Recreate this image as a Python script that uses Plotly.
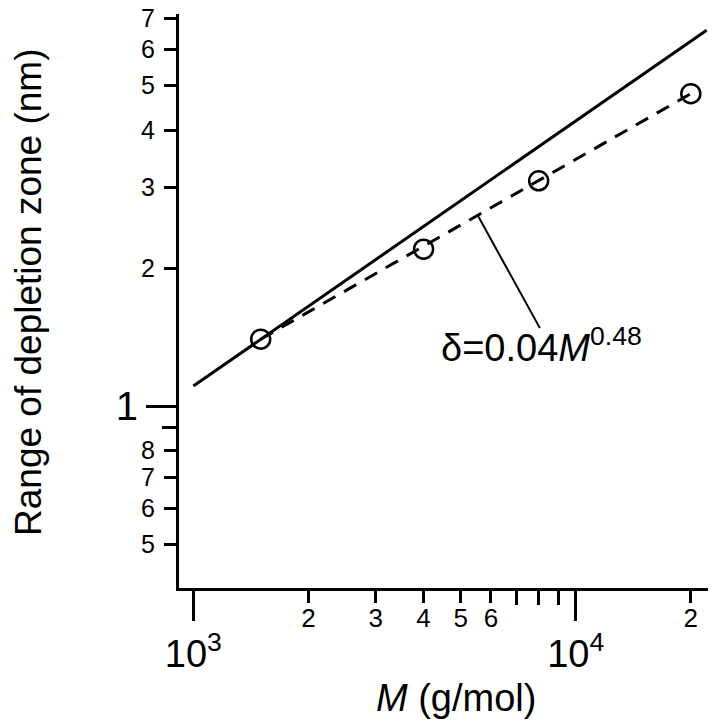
import numpy as np
import plotly.graph_objects as go

# ---- data ----
mass = [1500, 4000, 8000, 20000]            # M (g/mol)
depletion = [1.40, 2.20, 3.10, 4.80]         # range of depletion zone (nm)

fit_mass = [1500, 20000]                     # dashed fit, delta = 0.04 M^0.48
fit_depletion = [1.40, 4.80]

theory_mass = [1000, 22000]                  # solid line
theory_depletion = [1.107, 6.60]

leader_mass = [5550, 8060]                   # callout leader line
leader_depletion = [2.60, 1.48]

x_major_vals = [1000, 10000]
x_major_text = ["10<sup>3</sup>", "10<sup>4</sup>"]
x_minor_vals = [2000, 3000, 4000, 5000, 6000, 20000]
x_minor_text = ["2", "3", "4", "5", "6", "2"]
x_unlabeled_vals = [7000, 8000, 9000]

y_major_vals = [1]
y_major_text = ["1"]
y_minor_vals = [0.5, 0.6, 0.7, 0.8, 2, 3, 4, 5, 6, 7]
y_minor_text = ["5", "6", "7", "8", "2", "3", "4", "5", "6", "7"]
y_unlabeled_vals = [0.9]

x_range = [np.log10(917), np.log10(22180)]
y_range = [np.log10(0.4016), np.log10(7.16)]

FONT = "Liberation Sans, Arial, Helvetica, sans-serif"
BLACK = "black"

fig = go.Figure()

fig.add_trace(go.Scatter(x=theory_mass, y=theory_depletion, mode="lines",
                         line=dict(color=BLACK, width=3), showlegend=False,
                         hoverinfo="skip"))
fig.add_trace(go.Scatter(x=fit_mass, y=fit_depletion, mode="lines",
                         line=dict(color=BLACK, width=3, dash="14px,10px"),
                         showlegend=False, hoverinfo="skip"))
fig.add_trace(go.Scatter(x=leader_mass, y=leader_depletion, mode="lines",
                         line=dict(color=BLACK, width=2), showlegend=False,
                         hoverinfo="skip"))
fig.add_trace(go.Scatter(x=mass, y=depletion, mode="markers",
                         marker=dict(symbol="circle-open", size=19,
                                     color=BLACK, line=dict(width=2.5, color=BLACK)),
                         showlegend=False))
# invisible trace to keep the overlay axes alive
fig.add_trace(go.Scatter(x=[mass[0]], y=[depletion[0]], xaxis="x2", yaxis="y2",
                         mode="markers", marker=dict(opacity=0), showlegend=False,
                         hoverinfo="skip"))

minor_x = dict(tickmode="array", tickvals=x_unlabeled_vals, ticks="outside",
               ticklen=14, tickwidth=3, tickcolor=BLACK, showgrid=False)
minor_y = dict(tickmode="array", tickvals=y_unlabeled_vals, ticks="outside",
               ticklen=14, tickwidth=3, tickcolor=BLACK, showgrid=False)

fig.update_layout(
    width=718, height=720,
    margin=dict(l=171, r=18, t=6, b=140, autoexpand=False),
    paper_bgcolor="white", plot_bgcolor="white",
    font=dict(family=FONT, color=BLACK),
    xaxis=dict(type="log", range=x_range, tickmode="array", automargin=False,
               tickvals=x_major_vals, ticktext=x_major_text,
               ticks="outside", ticklen=30, tickwidth=3, tickcolor=BLACK,
               tickfont=dict(size=38, family=FONT, color=BLACK),
               ticklabelstandoff=0, ticklabeloverflow="allow",
               minor=minor_x,
               showline=True, linewidth=3, linecolor=BLACK,
               showgrid=False, zeroline=False, mirror=False),
    xaxis2=dict(type="log", range=x_range, overlaying="x", anchor="y", side="bottom",
                automargin=False, ticklabeloverflow="allow",
                tickmode="array", tickvals=x_minor_vals, ticktext=x_minor_text,
                ticks="outside", ticklen=14, tickwidth=3, tickcolor=BLACK,
                tickfont=dict(size=26, family=FONT, color=BLACK),
                ticklabelstandoff=-7,
                showline=False, showgrid=False, zeroline=False),
    yaxis=dict(type="log", range=y_range, tickmode="array", automargin=False,
               tickvals=y_major_vals, ticktext=y_major_text,
               ticks="outside", ticklen=30, tickwidth=3, tickcolor=BLACK,
               tickfont=dict(size=40, family=FONT, color=BLACK),
               ticklabeloverflow="allow",
               minor=minor_y,
               showline=True, linewidth=3, linecolor=BLACK,
               showgrid=False, zeroline=False),
    yaxis2=dict(type="log", range=y_range, overlaying="y", anchor="x", side="left",
                automargin=False, ticklabeloverflow="allow",
                tickmode="array", tickvals=y_minor_vals, ticktext=y_minor_text,
                ticks="outside", ticklen=14, tickwidth=3, tickcolor=BLACK,
                tickfont=dict(size=25, family=FONT, color=BLACK),
                ticklabelstandoff=4,
                showline=False, showgrid=False, zeroline=False),
    annotations=[
        dict(text="δ=0.04<i>M</i><sup>0.48</sup>", xref="paper", yref="paper",
             x=0.686, y=0.423, xanchor="center", yanchor="middle",
             showarrow=False, font=dict(size=38, family=FONT, color=BLACK)),
        dict(text="<i>M</i> (g/mol)", xref="paper", yref="paper",
             x=0.5236, y=-0.1925, xanchor="center", yanchor="middle",
             showarrow=False, font=dict(size=38, family=FONT, color=BLACK)),
        dict(text="Range of depletion zone (nm)", xref="paper", yref="paper",
             x=-0.2836, y=0.5157, xanchor="center", yanchor="middle", textangle=-90,
             showarrow=False, font=dict(size=37, family=FONT, color=BLACK)),
    ],
)

fig.write_html("out.html")
